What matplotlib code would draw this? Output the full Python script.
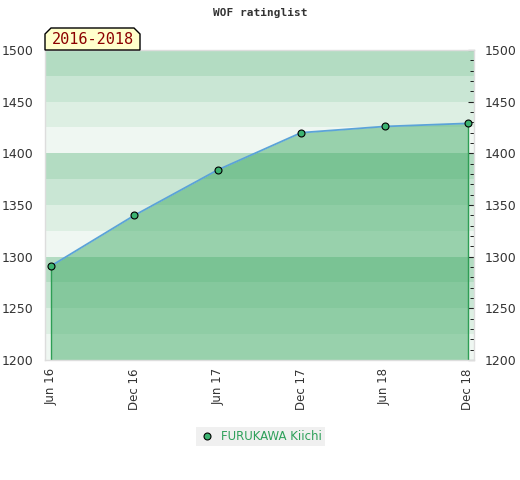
import numpy as np
import matplotlib.pyplot as plt
from matplotlib.patches import Polygon
from matplotlib.ticker import MultipleLocator

dates = ["Jun 16", "Dec 16", "Jun 17", "Dec 17", "Jun 18", "Dec 18"]
rating = [1291, 1340, 1384, 1420, 1426, 1429]
player = "FURUKAWA Kiichi"
period = "2016-2018"

ymin, ymax = 1200, 1500
band_cols = ["#eff7f2", "#ddefe3", "#c9e6d4", "#b3dcc2"]  # bottom to top in each 100

fig = plt.figure(figsize=(5.2, 4.8), dpi=100)
ax = fig.add_axes([45/520, 1-360/480, 429/520, 310/480])

x = np.arange(len(dates))
for lo in range(ymin, ymax, 25):
    ax.axhspan(lo, lo + 25, color=band_cols[(lo - ymin) // 25 % 4], lw=0, zorder=0)

ax.fill_between(x, rating, ymin, color="#43ac68", alpha=0.5, lw=0, zorder=1)
ax.vlines([x[0], x[-1]], ymin, [rating[0], rating[-1]], color="#2e9e55", lw=1, zorder=2)
ax.plot(x, rating, color="#5ba3d8", lw=1.3, zorder=3)
ax.plot(x, rating, "o", ms=5, mfc="#3cb371", mec="black", mew=0.8, zorder=4)

ax.set_xlim(-0.072, len(dates) - 1 + 0.072)
ax.set_ylim(ymin, ymax)
ax.set_xticks(x)
ax.set_xticklabels(dates, rotation=90, fontsize=8.5, color="#333333")
ax.tick_params(axis="x", length=0, pad=6)
ax.tick_params(axis="y", left=False, right=True, labelleft=True, labelright=True,
               labelsize=9, colors="#222222", direction="in", length=4, pad=8)
ax.yaxis.set_major_locator(MultipleLocator(50))
ax.yaxis.set_minor_locator(MultipleLocator(10))
ax.tick_params(axis="y", which="minor", right=True, left=False, direction="in", length=3)
for t in ax.get_yticklabels():
    t.set_color("#333333")
for s in ax.spines.values():
    s.set_color("#dddddd")
    s.set_linewidth(1)

fig.text(0.5, 1-13/480, "WOF ratinglist", ha="center", va="center",
         fontsize=8, family="DejaVu Sans Mono", weight="bold", color="#333333")

# period label box with chamfered top corners
bx0, bx1, by0, by1, c = 45, 140, 50, 28, 6
pts = [(bx0, by0), (bx0, by1 + c), (bx0 + c, by1), (bx1 - c, by1), (bx1, by1 + c), (bx1, by0)]
pts = [(px / 520, 1 - py / 480) for px, py in pts]
fig.patches.append(Polygon(pts, closed=True, transform=fig.transFigure,
                           fc="#ffffcc", ec="black", lw=1, zorder=5))
fig.text((bx0 + bx1) / 2 / 520, 1 - 40 / 480, period, ha="center", va="center",
         fontsize=11, family="DejaVu Sans Mono", color="#8b0000", zorder=6)

# legend
fig.patches.append(plt.Rectangle((196/520, 1-446/480), 129/520, 19/480,
                                 transform=fig.transFigure, fc="#f0f0f0", ec="none"))
fig.lines.append(plt.Line2D([207/520], [1-436/480], transform=fig.transFigure,
                            marker="o", ms=5, mfc="#3cb371", mec="black", mew=0.8, ls=""))
fig.text(221/520, 1-436/480, player, ha="left", va="center", fontsize=8.5, color="#2ea05a")

fig.savefig("out.png", dpi=100)
